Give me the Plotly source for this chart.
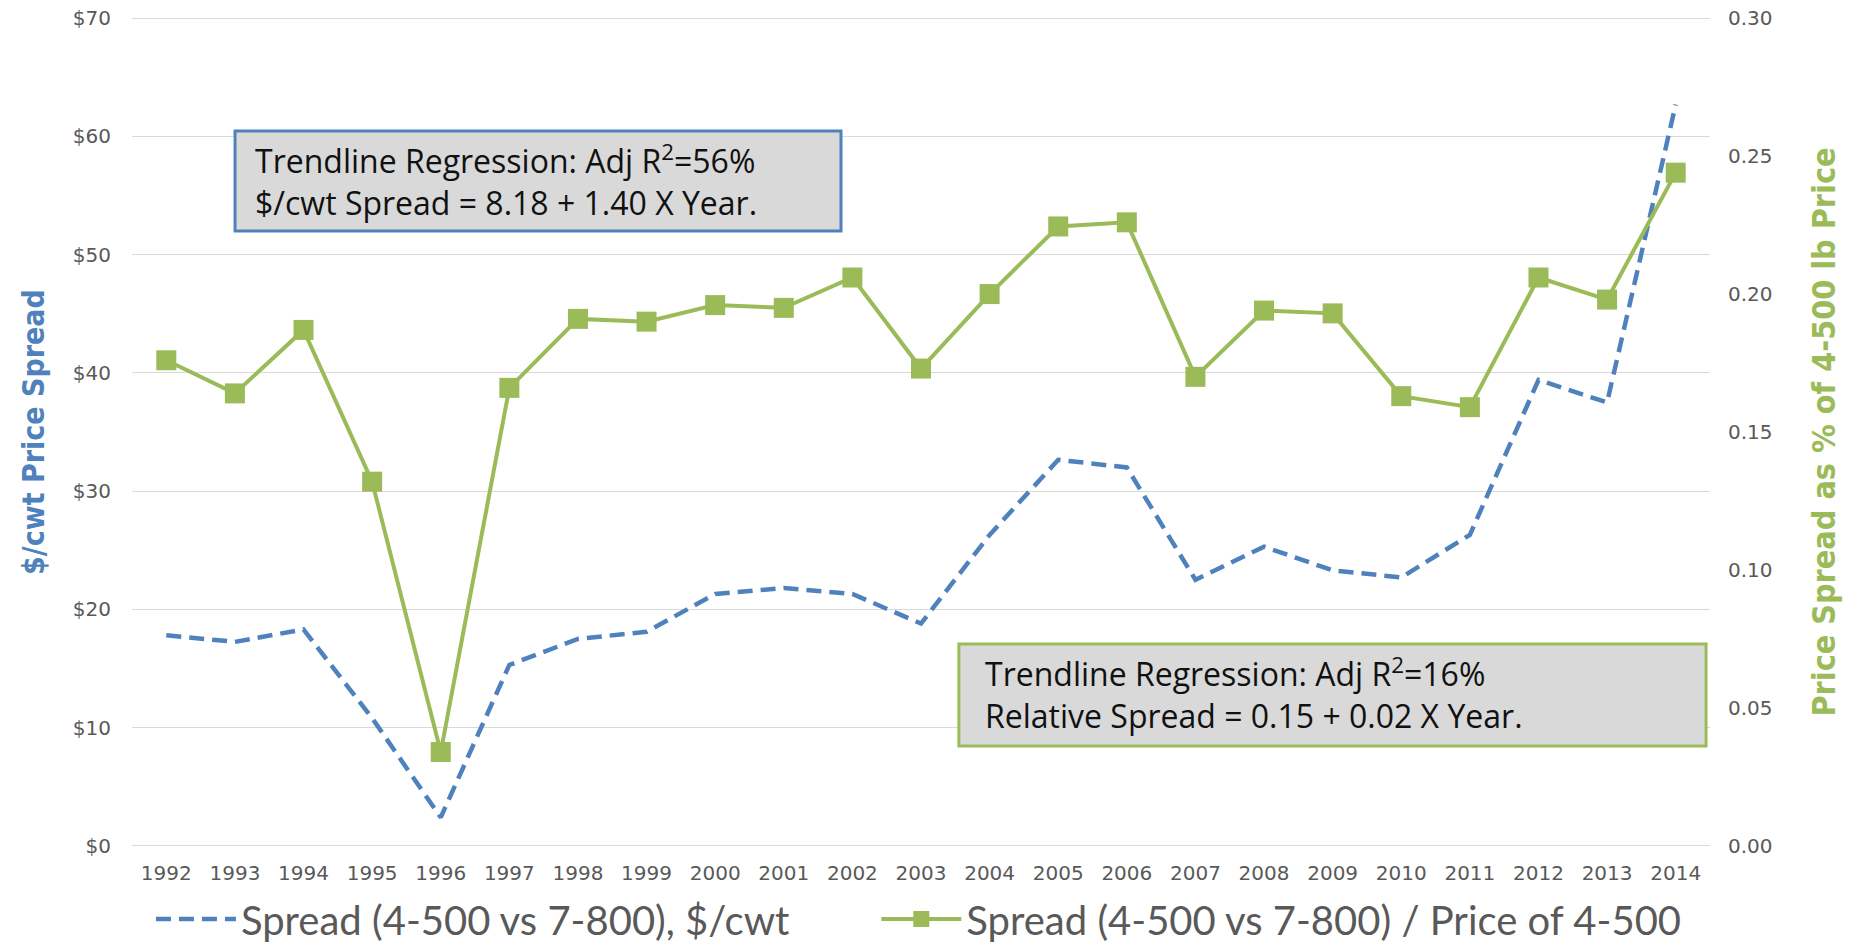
import plotly.graph_objects as go

years = list(range(1992, 2015))
spread_usd = [17.8, 17.25, 18.3, 10.8, 2.4, 15.3, 17.5, 18.1, 21.3, 21.8, 21.3, 18.8,
              26.3, 32.65, 32.0, 22.5, 25.3, 23.3, 22.7, 26.3, 39.4, 37.5, 62.7]
spread_rel = [0.176, 0.164, 0.187, 0.132, 0.034, 0.166, 0.191, 0.190, 0.196, 0.195, 0.206, 0.173,
              0.200, 0.2245, 0.226, 0.170, 0.194, 0.193, 0.163, 0.159, 0.206, 0.198, 0.244]
left_ticks = [0, 10, 20, 30, 40, 50, 60, 70]
right_ticks = [0, 0.05, 0.10, 0.15, 0.20, 0.25, 0.30]

series_names = ["Spread (4-500 vs 7-800), $/cwt", "Spread (4-500 vs 7-800) / Price of 4-500"]
box1_text = "Trendline Regression: Adj R<sup>2</sup>=56%<br>$/cwt Spread = 8.18 + 1.40 X Year."
box2_text = "Trendline Regression: Adj R<sup>2</sup>=16%<br>Relative Spread = 0.15 + 0.02 X Year."

BLUE = "#4F81BD"
GREEN = "#9BBB59"
GREY = "#595959"
TICKFONT = dict(family="DejaVu Sans, Open Sans", size=20, color=GREY)
TITLEFONT = "DejaVu Sans Condensed, Liberation Sans Narrow, Roboto Condensed, DejaVu Sans"
BOXFONT = dict(family="Open Sans, Lato", size=32, color="#111111")
PAD = "\u00a0" * 8  # spacing between legend entries

# small padding so the top/bottom gridlines are not clipped at the plot edge
Y1_RANGE = [-0.1, 70.1]
Y2_RANGE = [v * 0.30 / 70 for v in Y1_RANGE]

fig = go.Figure()
fig.add_trace(go.Scatter(
    x=years, y=spread_usd, name=series_names[0] + PAD, mode="lines",
    line=dict(color=BLUE, width=4.5, dash="15px,8px"), yaxis="y"))
fig.add_trace(go.Scatter(
    x=years, y=spread_rel, name=series_names[1], mode="lines+markers",
    line=dict(color=GREEN, width=4),
    marker=dict(symbol="square", size=20, color=GREEN), yaxis="y2"))

fig.update_layout(
    width=1851, height=943,
    margin=dict(l=132, r=141, t=17, b=96, autoexpand=False),
    paper_bgcolor="white", plot_bgcolor="white",
    showlegend=True,
    legend=dict(orientation="h", xref="paper", x=0.012, xanchor="left",
                y=-0.0867, yanchor="middle",
                font=dict(family="Lato, Open Sans", size=40, color=GREY),
                itemwidth=80, traceorder="normal",
                bgcolor="rgba(0,0,0,0)", borderwidth=0),
    xaxis=dict(range=[1991.5, 2014.5], tickmode="array", tickvals=years,
               ticktext=[str(y) for y in years], showgrid=False, zeroline=False,
               showline=False, ticks="", tickfont=TICKFONT, ticklabelstandoff=12),
    yaxis=dict(range=Y1_RANGE, tickmode="array", tickvals=left_ticks,
               ticktext=["$" + str(v) for v in left_ticks],
               showgrid=True, gridcolor="#D9D9D9", gridwidth=1, zeroline=False,
               showline=False, ticks="", tickfont=TICKFONT, ticklabelstandoff=20,
               ticklabeloverflow="allow",
               title=dict(text="$/cwt Price Spread", standoff=19,
                          font=dict(family=TITLEFONT, size=30, color=BLUE, weight="bold"))),
    yaxis2=dict(range=Y2_RANGE, overlaying="y", side="right", tickmode="array",
                tickvals=right_ticks, ticktext=["%.2f" % v for v in right_ticks],
                showgrid=False, zeroline=False, showline=False, ticks="",
                tickfont=TICKFONT, ticklabelstandoff=17, ticklabeloverflow="allow",
                title=dict(text="Price Spread as % of 4-500 lb Price", standoff=41,
                           font=dict(family=TITLEFONT, size=32, color=GREEN, weight="bold"))),
    shapes=[
        dict(type="rect", xref="paper", yref="paper", x0=0.0653, x1=0.4493, y0=0.7422, y1=0.8627,
             fillcolor="#D9D9D9", line=dict(color=BLUE, width=3), layer="above"),
        dict(type="rect", xref="paper", yref="paper", x0=0.524, x1=0.9975, y0=0.1217, y1=0.2446,
             fillcolor="#D9D9D9", line=dict(color=GREEN, width=3), layer="above"),
    ],
    annotations=[
        dict(text=box1_text, xref="paper", yref="paper", x=0.0767, y=0.8036,
             xanchor="left", yanchor="middle", align="left", showarrow=False, font=BOXFONT),
        dict(text=box2_text, xref="paper", yref="paper", x=0.5396, y=0.1855,
             xanchor="left", yanchor="middle", align="left", showarrow=False, font=BOXFONT),
    ],
)

fig.write_html("out.html", config={"displayModeBar": False},
               post_script="document.body.style.margin='0';")
